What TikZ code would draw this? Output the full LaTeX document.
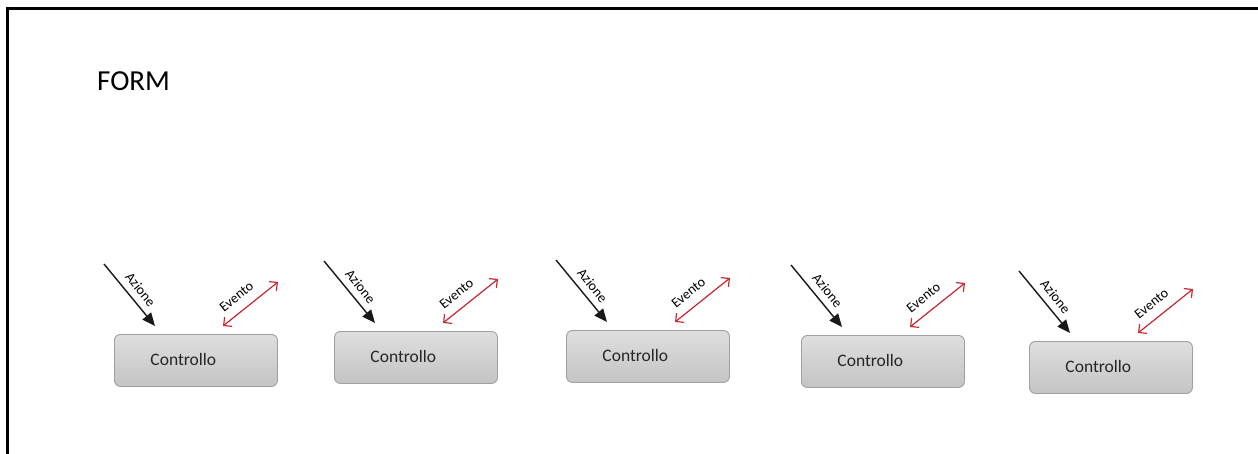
\documentclass[tikz,border=0pt]{standalone}
\usepackage{fontspec}
\setmainfont{Carlito}
\usetikzlibrary{arrows.meta,calc}
\definecolor{evred}{RGB}{200,45,55}
\definecolor{boxedge}{RGB}{160,160,160}
\definecolor{boxtop}{RGB}{222,222,222}
\definecolor{boxbot}{RGB}{196,196,196}
\tikzset{
  frameline/.style={line width=3pt, line cap=rect},
  ctrlbox/.style={draw=boxedge, line width=0.9pt, rounded corners=6pt,
    top color=boxtop, bottom color=boxbot, anchor=north west,
    minimum width=163pt, minimum height=52pt, inner xsep=36pt, inner ysep=0pt,
    text width=91pt, align=left, font=\fontsize{17.5}{20}\selectfont, text=black!85},
  azarrow/.style={line width=1.4pt, draw=black!90, -{Triangle[length=13pt,width=11pt]}},
  evarrow/.style={line width=1.2pt, draw=evred, {Straight Barb[length=6pt,width=12pt]}-{Straight Barb[length=6pt,width=12pt]}},
  azlabel/.style={sloped, above=6.5pt, pos=0.535, inner sep=0pt, font=\fontsize{14}{16}\selectfont, text=black},
  evlabel/.style={sloped, above=9.4pt, pos=0.41, inner sep=0pt, font=\fontsize{14}{16}\selectfont, text=black},
  titletext/.style={anchor=base west, inner sep=0pt, font=\fontsize{29}{32}\selectfont}
}
\begin{document}
\begin{tikzpicture}[x=1pt,y=1pt]
\useasboundingbox (0,0) rectangle (1258,-454);
\fill[white] (0,0) rectangle (1258,-454);
\coordinate (fbl) at (7,-456);
\coordinate (ftl) at (7,-9);
\coordinate (ftr) at (1260,-9);
\draw[frameline] (fbl) -- (ftl) -- (ftr);
\node[titletext] (title) at (97,-91) {FORM};
\foreach \i/\bx/\by in {1/114/334, 2/334/331, 3/566/330, 4/801/335, 5/1029/341} {
  \node[ctrlbox] (c\i) at (\bx,-\by) {\raisebox{3pt}{Controllo}};
  \coordinate (as\i) at ($(c\i.north west)+(-10,70)$);
  \coordinate (ae\i) at ($(c\i.north west)+(41,8)$);
  \coordinate (es\i) at ($(c\i.north west)+(109,8)$);
  \coordinate (ee\i) at ($(c\i.north west)+(164,52)$);
  \draw[azarrow] (as\i) -- node[azlabel] (az\i) {Azione} (ae\i);
  \draw[evarrow] (es\i) -- node[evlabel] (ev\i) {Evento} (ee\i);
}
\end{tikzpicture}
\end{document}
